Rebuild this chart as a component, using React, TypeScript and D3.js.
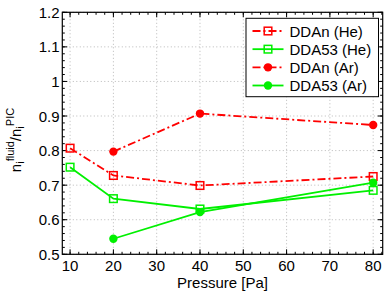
import * as d3 from "d3";
import { useEffect, useRef } from "react";

// pressure values [Pa]
const pressureHe = [10, 20, 40, 80];
const pressureAr = [20, 40, 80];

// density ratio n_i^fluid / n_i^PIC
const ddanHe = [0.807, 0.728, 0.699, 0.725];
const dda53He = [0.752, 0.661, 0.631, 0.685];
const ddanAr = [0.797, 0.907, 0.874];
const dda53Ar = [0.545, 0.622, 0.707];

const xTicks = [10, 20, 30, 40, 50, 60, 70, 80];
const yTicks = [0.5, 0.6, 0.7, 0.8, 0.9, 1.0, 1.1, 1.2];
const yTickLabels = ["0.5", "0.6", "0.7", "0.8", "0.9", "1", "1.1", "1.2"];

const seriesNames = ["DDAn (He)", "DDA53 (He)", "DDAn (Ar)", "DDA53 (Ar)"];

export default function App() {
  const svgRef = useRef<SVGSVGElement>(null);

  const width = 390;
  const height = 294;
  const plot = { left: 62.3, right: 382.7, top: 12.3, bottom: 254.3 };
  const font = "'Liberation Sans', Arial, Helvetica, sans-serif";

  useEffect(() => {
    const svg = d3.select(svgRef.current);
    svg.selectAll("*").remove();

    const x = d3.scaleLinear().domain([8.2, 82.2]).range([plot.left, plot.right]);
    const y = d3.scaleLinear().domain([0.5, 1.2]).range([plot.bottom, plot.top]);

    const red = "#ff0000";
    const green = "#00f000";
    const dashDot = "8,3,2,3";

    // grid
    const grid = svg.append("g");
    grid
      .selectAll("line.gx")
      .data(xTicks)
      .enter()
      .append("line")
      .attr("x1", (d) => x(d))
      .attr("x2", (d) => x(d))
      .attr("y1", plot.top)
      .attr("y2", plot.bottom)
      .attr("stroke", "#b8b8b8")
      .attr("stroke-dasharray", "1,2.5");
    grid
      .selectAll("line.gy")
      .data(yTicks)
      .enter()
      .append("line")
      .attr("x1", plot.left)
      .attr("x2", plot.right)
      .attr("y1", (d) => y(d))
      .attr("y2", (d) => y(d))
      .attr("stroke", "#b8b8b8")
      .attr("stroke-dasharray", "1,2.5");

    // ticks (inward, mirrored on all sides)
    const xMinor = d3.range(10, 82.1, 2);
    const yMinor = d3.range(0.5, 1.2001, 0.02);
    const ticks = svg.append("g").attr("stroke", "#000").attr("stroke-width", 1);
    const addX = (vals: number[], len: number) => {
      vals.forEach((v) => {
        ticks.append("line").attr("x1", x(v)).attr("x2", x(v)).attr("y1", plot.bottom).attr("y2", plot.bottom - len);
        ticks.append("line").attr("x1", x(v)).attr("x2", x(v)).attr("y1", plot.top).attr("y2", plot.top + len);
      });
    };
    const addY = (vals: number[], len: number) => {
      vals.forEach((v) => {
        ticks.append("line").attr("x1", plot.left).attr("x2", plot.left + len).attr("y1", y(v)).attr("y2", y(v));
        ticks.append("line").attr("x1", plot.right).attr("x2", plot.right - len).attr("y1", y(v)).attr("y2", y(v));
      });
    };
    addX(xMinor, 2.5);
    addX(xTicks, 5);
    addY(yMinor, 2.5);
    addY(yTicks, 5);

    // frame
    svg
      .append("rect")
      .attr("x", plot.left)
      .attr("y", plot.top)
      .attr("width", plot.right - plot.left)
      .attr("height", plot.bottom - plot.top)
      .attr("fill", "none")
      .attr("stroke", "#000")
      .attr("stroke-width", 1.2);

    // tick labels
    svg
      .selectAll("text.xt")
      .data(xTicks)
      .enter()
      .append("text")
      .attr("x", (d) => x(d))
      .attr("y", 270.8)
      .attr("text-anchor", "middle")
      .attr("font-family", font)
      .attr("font-size", 15)
      .text((d) => d);
    svg
      .selectAll("text.yt")
      .data(yTicks)
      .enter()
      .append("text")
      .attr("x", 59.5)
      .attr("y", (d) => y(d) + 5.5)
      .attr("text-anchor", "end")
      .attr("font-family", font)
      .attr("font-size", 15)
      .text((d, i) => yTickLabels[i]);

    // axis labels
    svg
      .append("text")
      .attr("x", (plot.left + plot.right) / 2)
      .attr("y", 288)
      .attr("text-anchor", "middle")
      .attr("font-family", font)
      .attr("font-size", 15)
      .text("Pressure [Pa]");

    const yl = svg
      .append("text")
      .attr("transform", "translate(21,140) rotate(-90)")
      .attr("text-anchor", "middle")
      .attr("font-family", font)
      .attr("font-size", 15);
    yl.append("tspan").text("n");
    yl.append("tspan").attr("font-size", 11).attr("dy", 3).text("i");
    yl.append("tspan").attr("font-size", 11).attr("dy", -10).text("fluid");
    yl.append("tspan").attr("dy", 7).text("/");
    yl.append("tspan").text("n");
    yl.append("tspan").attr("font-size", 11).attr("dy", 3).text("i");
    yl.append("tspan").attr("font-size", 11).attr("dy", -10).text("PIC");

    // series
    const series = [
      { xs: pressureHe, ys: ddanHe, color: red, dash: dashDot, marker: "square" },
      { xs: pressureHe, ys: dda53He, color: green, dash: null, marker: "square" },
      { xs: pressureAr, ys: ddanAr, color: red, dash: dashDot, marker: "circle" },
      { xs: pressureAr, ys: dda53Ar, color: green, dash: null, marker: "circle" },
    ];

    const line = d3
      .line<[number, number]>()
      .x((d) => x(d[0]))
      .y((d) => y(d[1]));

    const drawMarker = (g: any, cx: number, cy: number, s: any) => {
      if (s.marker === "square") {
        g.append("rect")
          .attr("x", cx - 3.8)
          .attr("y", cy - 3.8)
          .attr("width", 7.6)
          .attr("height", 7.6)
          .attr("fill", "none")
          .attr("stroke", s.color)
          .attr("stroke-width", 1.5);
      } else {
        g.append("circle").attr("cx", cx).attr("cy", cy).attr("r", 4.2).attr("fill", s.color);
      }
    };

    series.forEach((s) => {
      const pts = s.xs.map((v, i) => [v, s.ys[i]] as [number, number]);
      svg
        .append("path")
        .attr("d", line(pts))
        .attr("fill", "none")
        .attr("stroke", s.color)
        .attr("stroke-width", 1.8)
        .attr("stroke-dasharray", s.dash);
      const g = svg.append("g");
      pts.forEach((p) => drawMarker(g, x(p[0]), y(p[1]), s));
    });

    // legend
    const lg = svg.append("g");
    lg.append("rect")
      .attr("x", 246)
      .attr("y", 18.3)
      .attr("width", 132.5)
      .attr("height", 78.4)
      .attr("fill", "#fff")
      .attr("stroke", "#000")
      .attr("stroke-width", 1);
    const legendY = d3.scalePoint<string>().domain(seriesNames).range([31, 85.5]);
    series.forEach((s, i) => {
      const ly = legendY(seriesNames[i]) as number;
      lg.append("line")
        .attr("x1", 252.5)
        .attr("x2", 283.5)
        .attr("y1", ly)
        .attr("y2", ly)
        .attr("stroke", s.color)
        .attr("stroke-width", 1.8)
        .attr("stroke-dasharray", s.dash);
      drawMarker(lg, 268, ly, s);
      lg.append("text")
        .attr("x", 289.5)
        .attr("y", ly + 5.5)
        .attr("font-family", font)
        .attr("font-size", 15)
        .text(seriesNames[i]);
    });
  }, []);

  return (
    <svg
      ref={svgRef}
      width={width}
      height={height}
      style={{ position: "absolute", left: 0, top: 0, background: "#fff" }}
    />
  );
}
